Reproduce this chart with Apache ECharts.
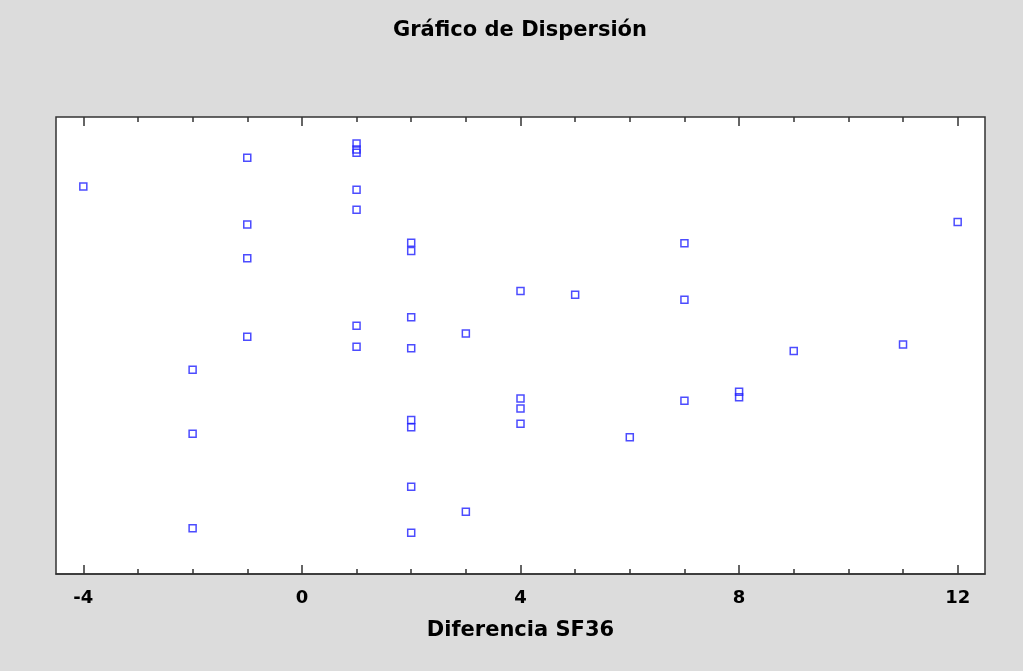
<!DOCTYPE html>
<html>
<head>
<meta charset="utf-8">
<script src="https://cdn.jsdelivr.net/npm/echarts@6/dist/echarts.min.js"></script>
<style>
html,body{margin:0;padding:0;background:#dcdcdc;}
#chart{width:1023px;height:671px;}
</style>
</head>
<body>
<div id="chart"></div>
<script>
// Data: SF36 difference (x) and vertical jitter position (0-100, no scale shown)
const diffSF36 = [-4, -2, -2, -2, -1, -1, -1, -1,
  1, 1, 1, 1, 1, 1, 1,
  2, 2, 2, 2, 2, 2, 2, 2,
  3, 3, 4, 4, 4, 4, 5, 6, 7, 7, 7, 8, 8, 9, 11, 12];
const jitter = [84.8, 44.7, 30.7, 10.0, 91.1, 76.5, 69.1, 51.9,
  94.2, 92.9, 92.2, 84.1, 79.7, 54.3, 49.7,
  72.5, 70.7, 56.2, 49.4, 33.7, 32.1, 19.1, 9.0,
  52.6, 13.6, 61.9, 38.4, 36.2, 32.9, 61.1, 29.9, 72.4, 60.0, 37.9, 39.9, 38.7, 48.8, 50.2, 77.0];
const majorTicks = [-4, 0, 4, 8, 12];
const minorTicks = [-3, -2, -1, 1, 2, 3, 5, 6, 7, 9, 10, 11];
const xMin = -4.5, xMax = 12.5;

const points = diffSF36.map((x, i) => [x, jitter[i]]);

const frameColor = '#333';
function tickAxis(pos, values, len, labels) {
  return {
    type: 'value', position: pos, min: xMin, max: xMax, gridIndex: 0,
    splitLine: {show: false},
    axisLine: {show: pos === 'bottom' && labels, lineStyle: {color: frameColor, width: 1.5}},
    axisTick: {show: true, inside: true, length: len, customValues: values,
      lineStyle: {color: frameColor, width: 1.5}},
    axisLabel: labels ? {show: true, customValues: values, margin: 15,
      fontFamily: 'DejaVu Sans', fontWeight: 'bold', fontSize: 18, color: '#000'} : {show: false},
    name: labels ? 'Diferencia SF36' : '',
    nameLocation: 'middle', nameGap: 46,
    nameTextStyle: {fontFamily: 'DejaVu Sans', fontWeight: 'bold', fontSize: 21, color: '#000'}
  };
}

const chart = echarts.init(document.getElementById('chart'), null, {renderer: 'canvas'});
chart.setOption({
  backgroundColor: '#dcdcdc',
  animation: false,
  title: {
    text: 'Gráfico de Dispersión', left: 515, textAlign: 'center', top: 15,
    textStyle: {fontFamily: 'DejaVu Sans', fontWeight: 'bold', fontSize: 21, color: '#000'}
  },
  grid: {left: 56, top: 117, width: 929, height: 457, show: true,
    backgroundColor: '#ffffff', borderColor: frameColor, borderWidth: 1.5},
  xAxis: [
    tickAxis('bottom', majorTicks, 9, true),
    tickAxis('bottom', minorTicks, 5, false),
    tickAxis('top', majorTicks, 9, false),
    tickAxis('top', minorTicks, 5, false)
  ],
  yAxis: {type: 'value', min: 0, max: 100, show: false, splitLine: {show: false}},
  series: [{
    type: 'scatter', xAxisIndex: 0, data: points,
    symbol: 'rect', symbolSize: 7,
    itemStyle: {color: 'rgba(255,255,255,0)', borderColor: '#1f1fff', borderWidth: 1.5}
  }]
});
</script>
</body>
</html>
